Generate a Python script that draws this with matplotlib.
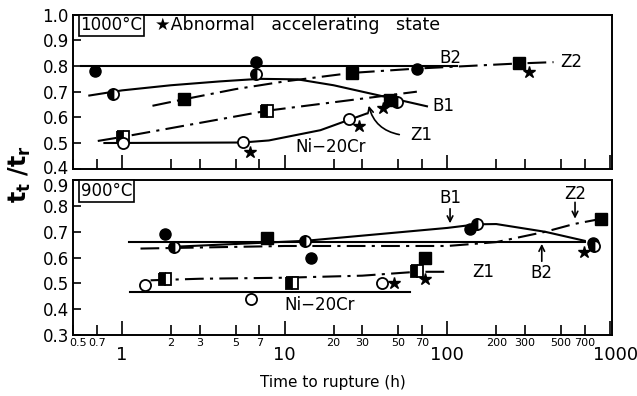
import matplotlib
matplotlib.use('Agg')
import matplotlib.pyplot as plt
import matplotlib.transforms as mtransforms

# ---- 1000 C data (time to rupture h, t_t/t_r) ----
b2_1000_t = [0.686, 6.64, 65.2]
b2_1000_r = [0.78, 0.816, 0.79]
b1_1000_t = [0.877, 6.64, 49.1]
b1_1000_r = [0.69, 0.768, 0.66]
z2_1000_t = [2.39, 25.8, 44.7, 276]
z2_1000_r = [0.67, 0.774, 0.667, 0.81]
z1_1000_t = [1.01, 7.84]
z1_1000_r = [0.524, 0.626]
ni_1000_t = [1.01, 5.55, 24.8]
ni_1000_r = [0.501, 0.505, 0.592]
star_1000_t = [6.12, 28.5, 40.4, 317]
star_1000_r = [0.466, 0.566, 0.636, 0.777]

# fitted curves, 1000 C
b2_1000_line_t = [0.56, 115]
b2_1000_line_r = [0.80, 0.80]
b1_1000_line_t = [0.63, 1.0, 2.0, 4.0, 7.0, 12.0, 20.0, 45.0, 75.0]
b1_1000_line_r = [0.685, 0.705, 0.725, 0.74, 0.75, 0.748, 0.725, 0.675, 0.643]
z2_1000_line_t = [1.54, 2.39, 5.0, 10.0, 25.8, 65.0, 276.0, 450.0]
z2_1000_line_r = [0.645, 0.67, 0.71, 0.74, 0.773, 0.79, 0.81, 0.815]
z1_1000_line_t = [0.71, 1.01, 7.84, 65.0]
z1_1000_line_r = [0.508, 0.524, 0.626, 0.70]
ni_1000_line_t = [0.78, 5.5, 8.0, 16.6, 24.8, 32.0]
ni_1000_line_r = [0.50, 0.502, 0.51, 0.55, 0.59, 0.615]

# ---- 900 C data ----
b2_900_t = [1.84, 14.6, 138, 783]
b2_900_r = [0.69, 0.597, 0.71, 0.655]
b1_900_t = [2.09, 13.4, 152, 800]
b1_900_r = [0.642, 0.665, 0.729, 0.645]
z2_900_t = [7.84, 73.3, 881]
z2_900_r = [0.677, 0.60, 0.75]
z1_900_t = [1.84, 11.1, 65]
z1_900_r = [0.517, 0.503, 0.549]
ni_900_t = [1.38, 6.19, 39.7]
ni_900_r = [0.494, 0.438, 0.503]
star_900_t = [46.9, 73, 696]
star_900_r = [0.50, 0.516, 0.623]

# fitted curves, 900 C
b2_900_line_t = [1.1, 700]
b2_900_line_r = [0.66, 0.66]
b1_900_line_t = [2.09, 13.4, 100, 152, 200, 400, 700]
b1_900_line_r = [0.642, 0.665, 0.715, 0.729, 0.73, 0.70, 0.665]
z2_900_line_t = [1.3, 10, 100, 200, 400, 600, 880]
z2_900_line_r = [0.635, 0.645, 0.645, 0.66, 0.70, 0.73, 0.75]
z1_900_line_t = [1.5, 3, 10, 30, 65, 100]
z1_900_line_r = [0.512, 0.518, 0.522, 0.53, 0.545, 0.545]
ni_900_line_t = [1.12, 59]
ni_900_line_r = [0.468, 0.468]

major_x = [1, 10, 100, 1000]
minor_x = [0.5, 0.7, 2, 3, 5, 7, 20, 30, 50, 70, 200, 300, 500, 700]
minor_lbl = ['0.5', '0.7', '2', '3', '5', '7', '20', '30', '50', '70',
             '200', '300', '500', '700']

dashdot = (0, (9, 3, 1.5, 3))
ms = 8

fig = plt.figure(figsize=(6.37, 3.96), dpi=100)
ax1 = fig.add_axes([0.1146, 0.574, 0.8462, 0.389])
ax2 = fig.add_axes([0.1146, 0.154, 0.8462, 0.391])


def style_axes(ax, ylo, yhi, show_x):
    ax.set_xscale('log')
    ax.set_xlim(0.5, 1030)
    ax.set_ylim(ylo, yhi)
    ax.set_xticks(major_x)
    ax.set_xticks(minor_x, minor=True)
    if show_x:
        ax.set_xticklabels([str(v) for v in major_x], fontsize=13)
        ax.set_xticklabels(minor_lbl, minor=True, fontsize=8)
    else:
        ax.set_xticklabels([])
        ax.set_xticklabels([], minor=True)
    ax.tick_params(axis='x', which='major', direction='in', length=10,
                   width=1.2, pad=8)
    ax.tick_params(axis='x', which='minor', direction='in', length=7,
                   width=1.2, pad=2)
    ax.set_yticks([round(ylo + 0.1 * i, 1) for i in range(7)])
    ax.set_yticklabels(['%.1f' % (ylo + 0.1 * i) for i in range(7)],
                       fontsize=12)
    ax.tick_params(axis='y', direction='in', length=6, width=1.2, pad=3)
    for s in ax.spines.values():
        s.set_linewidth(1.4)


def nudge(label, dx_px, dy_px):
    label.set_transform(label.get_transform() + mtransforms.ScaledTranslation(
        dx_px / 100, dy_px / 100, fig.dpi_scale_trans))


style_axes(ax1, 0.4, 1.0, False)
style_axes(ax2, 0.3, 0.9, True)
# small shifts so crowded labels sit like in the original
nudge(ax2.get_xticklabels(minor=True)[0], -4, 0)
ax2.get_xticklabels(minor=True)[0].set_ha('left')
nudge(ax2.get_xticklabels()[-1], 6, 0)
nudge(ax1.get_yticklabels()[0], 0, 2)
nudge(ax2.get_yticklabels()[-1], 0, -5)

lw = 1.5
k = 'black'

# 1000 C lines
ax1.plot(b2_1000_line_t, b2_1000_line_r, color=k, lw=lw)
ax1.plot(b1_1000_line_t, b1_1000_line_r, color=k, lw=lw)
ax1.plot(z2_1000_line_t, z2_1000_line_r, color=k, lw=lw, ls=dashdot)
ax1.plot(z1_1000_line_t, z1_1000_line_r, color=k, lw=lw, ls=dashdot)
ax1.plot(ni_1000_line_t, ni_1000_line_r, color=k, lw=lw)

# 1000 C points
ax1.plot(b2_1000_t, b2_1000_r, 'o', color=k, ms=ms)
ax1.plot(b1_1000_t, b1_1000_r, 'o', color=k, ms=ms, fillstyle='left',
         markerfacecoloralt='white', mew=1.3)
ax1.plot(z2_1000_t, z2_1000_r, 's', color=k, ms=ms)
ax1.plot(z1_1000_t, z1_1000_r, 's', color=k, ms=ms, fillstyle='left',
         markerfacecoloralt='white', mew=1.3)
ax1.plot(ni_1000_t, ni_1000_r, 'o', color=k, ms=ms, mfc='white', mew=1.3)
ax1.plot(star_1000_t, star_1000_r, '*', color=k, ms=9)

# 900 C lines
ax2.plot(b2_900_line_t, b2_900_line_r, color=k, lw=lw)
ax2.plot(b1_900_line_t, b1_900_line_r, color=k, lw=lw)
ax2.plot(z2_900_line_t, z2_900_line_r, color=k, lw=lw, ls=dashdot)
ax2.plot(z1_900_line_t, z1_900_line_r, color=k, lw=lw, ls=dashdot)
ax2.plot(ni_900_line_t, ni_900_line_r, color=k, lw=lw)

# 900 C points
ax2.plot(b2_900_t, b2_900_r, 'o', color=k, ms=ms)
ax2.plot(b1_900_t, b1_900_r, 'o', color=k, ms=ms, fillstyle='left',
         markerfacecoloralt='white', mew=1.3)
ax2.plot(z2_900_t, z2_900_r, 's', color=k, ms=ms)
ax2.plot(z1_900_t, z1_900_r, 's', color=k, ms=ms, fillstyle='left',
         markerfacecoloralt='white', mew=1.3)
ax2.plot(ni_900_t, ni_900_r, 'o', color=k, ms=ms, mfc='white', mew=1.3)
ax2.plot(star_900_t, star_900_r, '*', color=k, ms=9)

# labels 1000 C
fs = 12
box = dict(boxstyle='square,pad=0.1', fc='white', ec='black', lw=1.2)
ax1.text(0.014, 0.93, '1000°C', transform=ax1.transAxes, fontsize=fs,
         va='center', ha='left', bbox=box)
ax1.text(0.152, 0.93, '★Abnormal   accelerating   state',
         transform=ax1.transAxes, fontsize=12.5, va='center', ha='left')
ax1.text(104, 0.833, 'B2', fontsize=fs, ha='center', va='center')
ax1.text(494, 0.815, 'Z2', fontsize=fs, ha='left', va='center')
ax1.text(81, 0.644, 'B1', fontsize=fs, ha='left', va='center')
ax1.text(59, 0.531, 'Z1', fontsize=fs, ha='left', va='center')
ax1.text(11.7, 0.484, 'Ni−20Cr', fontsize=fs, ha='left', va='center')
ax1.annotate('', xy=(32.6, 0.656), xytext=(52.7, 0.531),
             arrowprops=dict(arrowstyle='->', color=k, lw=1.2,
                             connectionstyle='arc3,rad=-0.35'))

# labels 900 C
ax2.text(0.014, 0.93, '900°C', transform=ax2.transAxes, fontsize=fs,
         va='center', ha='left', bbox=box)
ax2.text(104, 0.83, 'B1', fontsize=fs, ha='center', va='center')
ax2.annotate('', xy=(104, 0.722), xytext=(104, 0.80),
             arrowprops=dict(arrowstyle='->', color=k, lw=1.2))
ax2.text(610, 0.848, 'Z2', fontsize=fs, ha='center', va='center')
ax2.annotate('', xy=(610, 0.74), xytext=(610, 0.825),
             arrowprops=dict(arrowstyle='->', color=k, lw=1.2))
ax2.text(381, 0.54, 'B2', fontsize=fs, ha='center', va='center')
ax2.annotate('', xy=(381, 0.664), xytext=(381, 0.575),
             arrowprops=dict(arrowstyle='->', color=k, lw=1.2))
ax2.text(142, 0.545, 'Z1', fontsize=fs, ha='left', va='center')
ax2.text(16.4, 0.416, 'Ni−20Cr', fontsize=fs, ha='center', va='center')

fig.text(0.032, 0.56, r'$\mathbf{t_t\ /t_r}$', rotation=90, fontsize=17,
         ha='center', va='center')
fig.text(333 / 637, 1 - 382 / 396, 'Time to rupture (h)', fontsize=11,
         ha='center', va='center')

fig.savefig('out.png', dpi=100)
